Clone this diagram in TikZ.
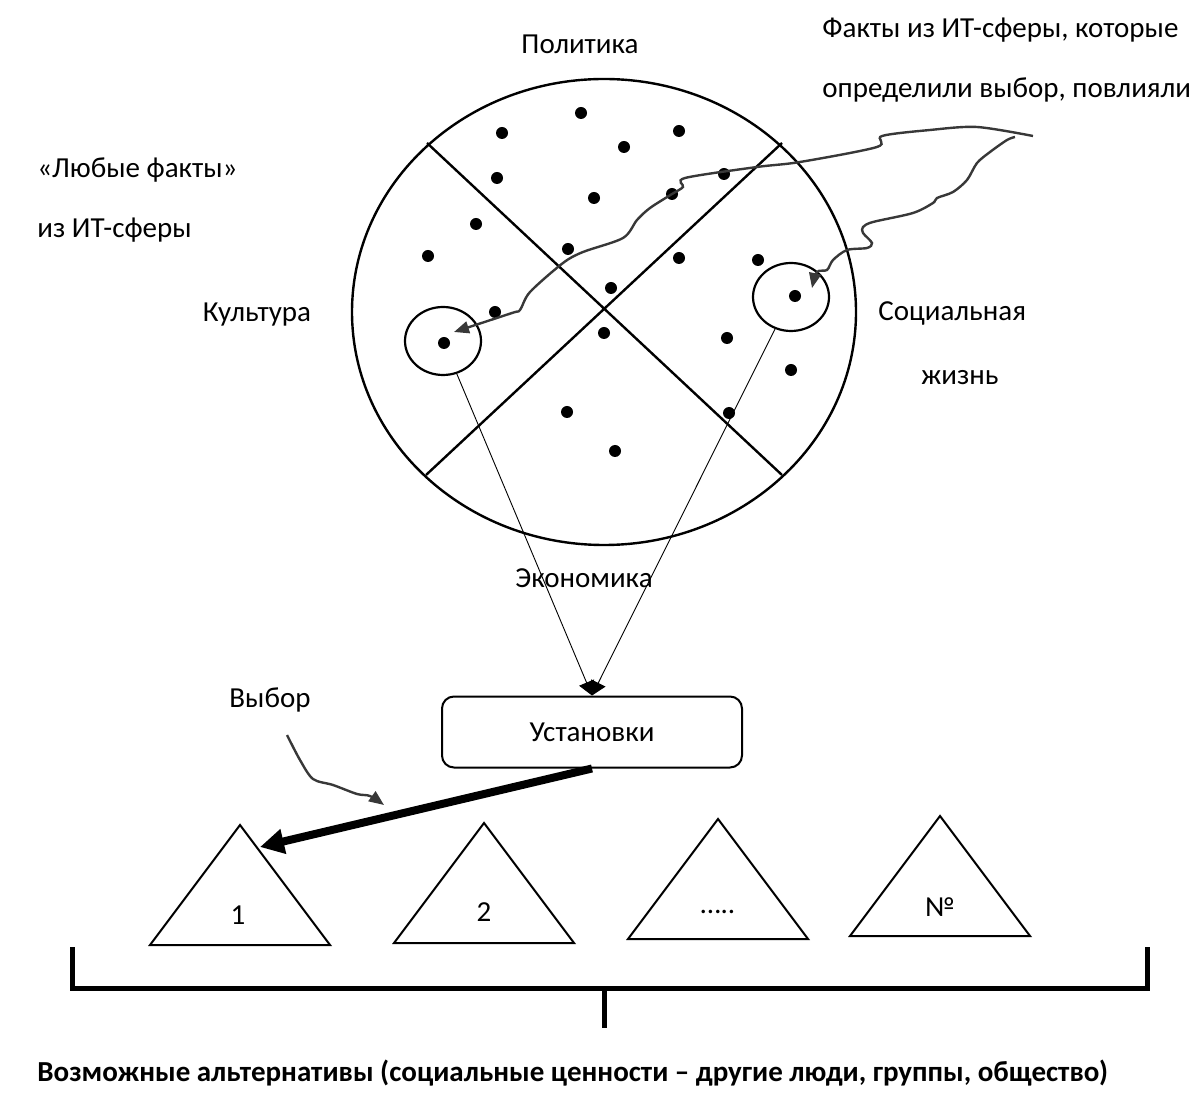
\documentclass[tikz,border=0pt]{standalone}
\usepackage{fontspec}
\setmainfont{Carlito}
\usetikzlibrary{arrows.meta,shapes.geometric}

\begin{document}
\begin{tikzpicture}[x=0.5pt,y=-0.5pt,
  lbl/.style={font=\fontsize{14.5}{17}\selectfont, inner sep=0pt},
  dot/.style={circle,fill,inner sep=0pt,minimum size=6pt},
  ring/.style={ellipse,draw,line width=1.1pt,minimum width=38pt,minimum height=34pt,inner sep=0pt},
  wavy/.style={draw=black!78,line width=1.2pt,-{Triangle[length=7.5pt,width=6pt]}},
  thinarr/.style={line width=0.45pt,-{Triangle[length=7pt,width=8pt]}},
  alt/.style={draw,line width=1pt}]

\useasboundingbox (0,0) rectangle (1204,1095);

% sphere of IT facts
\draw[line width=1.2pt] (604,312) ellipse (252 and 233);
\draw[line width=1.2pt] (427,143) -- (782,475) (782,143) -- (426,475);

\foreach \x/\y [count=\i] in {581/113, 502/133, 679/131, 624/147, 497/178, 594/198,
    724/174, 672/194, 476/224, 428/256, 568/249, 679/258, 758/260, 611/288,
    495/312, 444/343, 795/296, 604/333, 727/338, 791/370, 567/412, 729/413, 615/451}
  \node[dot] (d\i) at (\x,\y) {};

\node[ring] (cult) at (443,341) {};
\node[ring] (soc) at (791,297) {};

\node[lbl] (pol) at (580,44) {Политика};
\node[lbl] (kult) at (257,315) {Культура};
\node[lbl,anchor=west] (soc1) at (878,313) {Социальная};
\node[lbl] (soc2) at (960,378) {жизнь};
\node[lbl] (eko) at (584,578) {Экономика};
\node[lbl,anchor=west] (any1) at (37,170) {«Любые факты»};
\node[lbl,anchor=west] (any2) at (37,230) {из ИТ-сферы};
\node[lbl,anchor=west] (fact1) at (822,30) {Факты из ИТ-сферы, которые};
\node[lbl,anchor=west] (fact2) at (822,90) {определили выбор, повлияли};

% squiggles from the facts
\draw[wavy] plot[smooth,tension=0.5] coordinates {(1033,136) (977,127) (930,130)
    (882,136) (877,147) (800,162) (757,167) (685,178) (683,187) (672,194) (650,208)
    (637,220) (623,238) (583,252) (563,263) (530,292) (520,310) (512,313) (454,332)};
\draw[wavy] plot[smooth,tension=0.5] coordinates {(1015,137) (1007,140) (990,152)
    (977,163) (967,180) (953,192) (937,198) (933,203) (913,213) (873,222) (863,227)
    (863,233) (872,243) (867,248) (847,250) (833,260) (827,270) (817,272) (812,288)};

% attitudes
\node[lbl,draw,rounded corners=6pt,line width=1pt,minimum width=150pt,
      minimum height=35.5pt] (ust) at (592,732) {Установки};
\draw[thinarr] (cult) -- (ust.north);
\draw[thinarr] (soc) -- (ust.north);

\node[lbl] (vyb) at (270,700) {Выбор};
\draw[wavy] plot[smooth,tension=0.5] coordinates {(287,735) (300,760) (313,779)
    (333,785) (357,794) (370,796) (384,805)};

% alternatives
\foreach \ax/\ay/\by in {240/825/945, 484/823/943, 718/819/939, 940/816/936}
  \draw[alt] (\ax,\ay) -- (\ax-90,\by) -- (\ax+90,\by) -- cycle;
\node[lbl] (alt1) at (238,915) {1};
\node[lbl] (alt2) at (484,912) {2};
\node[lbl] (alt3) at (718,912) {…..};
\node[lbl] (alt4) at (940,907) {№};

\coordinate (t1) at (260,847);
\draw[line width=4pt,-{Triangle[length=12pt,width=12pt]}] (ust.south) -- (t1);

\draw[line width=2.5pt] (72,947) -- (72,988) -- (1147,988) -- (1147,947);
\draw[line width=2.5pt] (604,988) -- (604,1028);

\node[lbl,anchor=west,font=\fontsize{14.5}{17}\selectfont\bfseries] (bottom) at (37,1073)
  {Возможные альтернативы (социальные ценности – другие люди, группы, общество)};

\end{tikzpicture}
\end{document}
